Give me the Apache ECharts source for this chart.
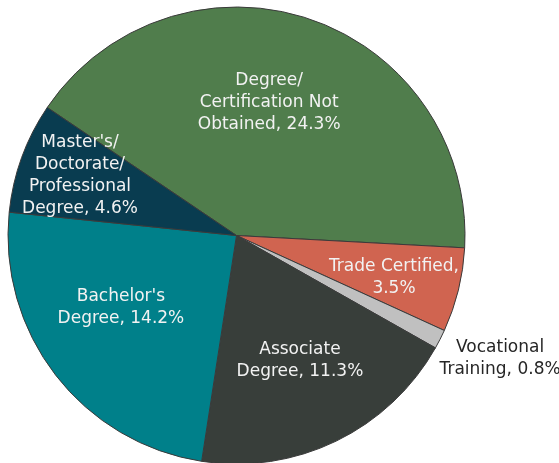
<!DOCTYPE html>
<html>
<head>
<meta charset="utf-8">
<script src="https://cdn.jsdelivr.net/npm/echarts@6/dist/echarts.min.js"></script>
<style>
  html, body { margin: 0; padding: 0; background: #fff; }
  #chart { width: 559px; height: 463px; }
</style>
</head>
<body>
<div id="chart"></div>
<script>
// slices, clockwise from the upper-left edge
const categories = [
  'Degree/\nCertification Not\nObtained',
  'Trade Certified',
  'Vocational\nTraining',
  'Associate\nDegree',
  "Bachelor's\nDegree",
  "Master's/\nDoctorate/\nProfessional\nDegree"
]
const shares = [24.3, 3.5, 0.8, 11.3, 14.2, 4.6]
const sliceColors = ['#507d4c', '#d06450', '#c0c0c0', '#383e3a', '#00808a', '#093c50']

// where each label sits: fraction of the radius, and a nudge (deg) off the slice middle
const labelRadius = [0.6, 0.713, 1.274, 0.612, 0.597, 0.734]
const labelNudge = [4.8, -1, 1.9, 1.1, -5.6, -1.1]

const CX = 236.5
const CY = 235.5
const R = 228.5
const START = 145.93

const total = shares.reduce((a, b) => a + b, 0)
const midAngles = []
let acc = START
shares.forEach(v => {
  const span = v / total * 360
  midAngles.push(acc - span / 2)
  acc -= span
})

const chart = echarts.init(document.getElementById('chart'))

chart.setOption({
  animation: false,
  series: [
    {
      type: 'pie',
      center: [CX, CY],
      radius: R,
      startAngle: START,
      clockwise: true,
      avoidLabelOverlap: false,
      itemStyle: {
        borderColor: '#3a3a3a',
        borderWidth: 1
      },
      label: {
        show: true,
        position: 'inside',
        fontFamily: 'DejaVu Sans',
        fontSize: 17,
        lineHeight: 22,
        color: '#f2f2f2',
        align: 'center',
        formatter: (p) => p.name + (p.dataIndex === 1 ? ',\n' : ', ') + p.value + '%'
      },
      labelLine: { show: false },
      labelLayout: (params) => {
        const i = params.dataIndex
        const a = (midAngles[i] + labelNudge[i]) * Math.PI / 180
        const d = labelRadius[i] * R
        return {
          x: CX + d * Math.cos(a),
          y: CY - d * Math.sin(a),
          align: 'center',
          verticalAlign: 'middle'
        }
      },
      data: categories.map((name, i) => ({
        name,
        value: shares[i],
        itemStyle: { color: sliceColors[i] },
        label: i === 2 ? { color: '#262626' } : undefined
      }))
    }
  ]
})
</script>
</body>
</html>
